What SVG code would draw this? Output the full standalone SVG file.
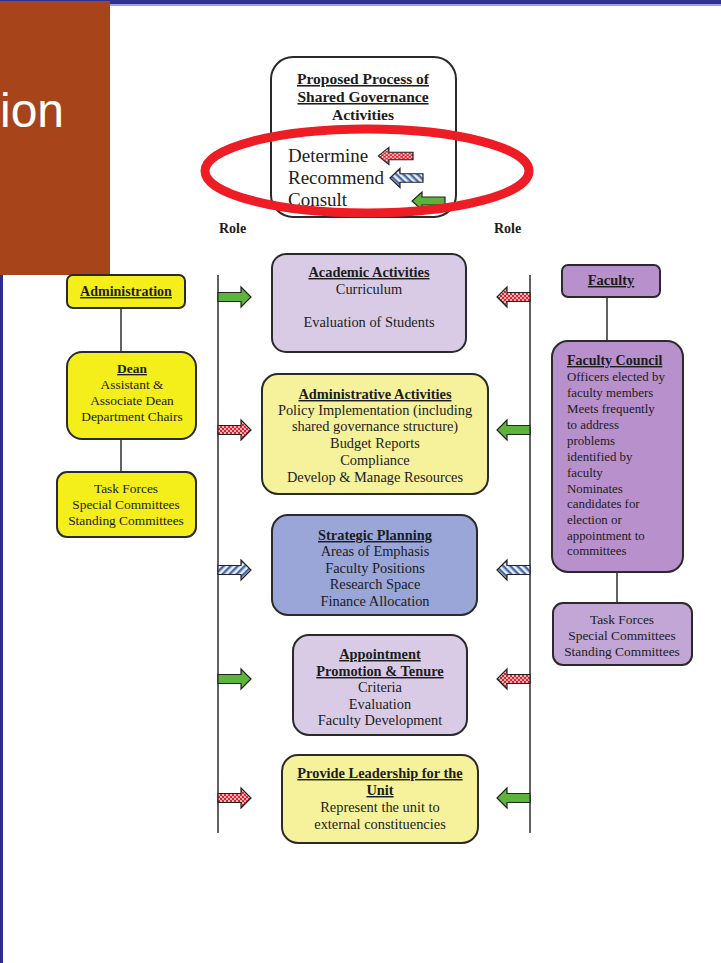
<svg xmlns="http://www.w3.org/2000/svg" xmlns:xlink="http://www.w3.org/1999/xlink" width="721" height="963" viewBox="0 0 721 963">
<style>
.t{font-family:"Liberation Serif","Times New Roman",serif;fill:#1c1c1c;font-size:13.4px;text-anchor:middle}
.b{font-weight:bold;text-decoration:underline}
.c{font-size:14.4px}
.l{text-anchor:start;font-size:12.9px}
.lg{text-anchor:start;font-size:19px;fill:#222}
.ti{font-size:15.5px;font-weight:bold}
.role{text-anchor:start;font-size:14px;font-weight:bold}
.box{stroke:#2a2a2a;stroke-width:2}
.conn{stroke:#3a3a3a;stroke-width:1.6;fill:none}
.arr{stroke:#222;stroke-width:1.2}
</style>
<defs>
<pattern id="check" patternUnits="userSpaceOnUse" width="4" height="4">
<rect width="4" height="4" fill="#e0202a"/>
<circle cx="1" cy="1" r="0.9" fill="#fff"/>
<circle cx="3" cy="3" r="0.9" fill="#fff"/>
</pattern>
<pattern id="hatch" patternUnits="userSpaceOnUse" width="5" height="5" patternTransform="rotate(45)">
<rect width="5" height="5" fill="#e8eef8"/>
<rect width="2.4" height="5" fill="#4a68a6"/>
</pattern>
<path id="arr" d="M0,-4.5 H23 V-10 L33,0 L23,10 V4.5 H0 Z"/>
</defs>

<!-- background / slide frame -->
<rect x="0" y="0" width="721" height="963" fill="#ffffff"/>
<rect x="0" y="0" width="721" height="4" fill="#2e3192"/>
<rect x="0" y="4" width="721" height="2" fill="#9ea2da"/>
<rect x="0" y="275" width="3" height="688" fill="#2b2f8a"/>
<g id="title-block">
<rect x="0" y="1" width="110" height="274" fill="#a8441a"/>
<text x="0" y="127" font-family="Liberation Sans, Arial, sans-serif" font-size="48" fill="#ffffff">ion</text>
</g>

<!-- legend -->
<g id="legend">
<rect class="box" x="271" y="57" width="185" height="160" rx="22" fill="#fff"/>
<text class="t b ti" x="363" y="84">Proposed Process of</text>
<text class="t b ti" x="363" y="102">Shared Governance</text>
<text class="t ti" x="363" y="120">Activities</text>
<text class="t lg" x="288" y="162">Determine</text>
<text class="t lg" x="288" y="184">Recommend</text>
<text class="t lg" x="288" y="206">Consult</text>
<use href="#arr" class="arr" fill="url(#check)" transform="translate(413,156) scale(-1.05,0.85)"/>
<use href="#arr" class="arr" fill="url(#hatch)" transform="translate(423,178) scale(-1,0.95)"/>
<use href="#arr" class="arr" fill="#5cb43a" transform="translate(445,201) scale(-1,0.9)"/>
</g>
<ellipse cx="367" cy="171" rx="162" ry="42" fill="none" stroke="#ee1c24" stroke-width="9"/>

<text class="t role" x="219" y="233">Role</text>
<text class="t role" x="494" y="233">Role</text>

<!-- connectors -->
<g id="connectors">
<line class="conn" x1="218" y1="275" x2="218" y2="833"/>
<line class="conn" x1="530" y1="275" x2="530" y2="833"/>
<line class="conn" x1="121" y1="308" x2="121" y2="352"/>
<line class="conn" x1="121" y1="439" x2="121" y2="472"/>
<line class="conn" x1="607" y1="297" x2="607" y2="341"/>
<line class="conn" x1="617" y1="572" x2="617" y2="603"/>
<use href="#arr" class="arr" fill="#5cb43a" transform="translate(218,297)"/>
<use href="#arr" class="arr" fill="url(#check)" transform="translate(218,430)"/>
<use href="#arr" class="arr" fill="url(#hatch)" transform="translate(218,570)"/>
<use href="#arr" class="arr" fill="#5cb43a" transform="translate(218,679)"/>
<use href="#arr" class="arr" fill="url(#check)" transform="translate(218,798)"/>
<use href="#arr" class="arr" fill="url(#check)" transform="translate(530,297) scale(-1,1)"/>
<use href="#arr" class="arr" fill="#5cb43a" transform="translate(530,430) scale(-1,1)"/>
<use href="#arr" class="arr" fill="url(#hatch)" transform="translate(530,570) scale(-1,1)"/>
<use href="#arr" class="arr" fill="url(#check)" transform="translate(530,679) scale(-1,1)"/>
<use href="#arr" class="arr" fill="#5cb43a" transform="translate(530,798) scale(-1,1)"/>
</g>

<!-- left column -->
<g id="administration">
<rect class="box" x="67" y="275" width="118" height="33" rx="6" fill="#f4ee1a"/>
<text class="t b" x="126" y="296" style="font-size:14px">Administration</text>
</g>
<g id="dean">
<rect class="box" x="67" y="352" width="129" height="87" rx="15" fill="#f4ee1a"/>
<text class="t b" x="132" y="373">Dean</text>
<text class="t" x="132" y="389">Assistant &amp;</text>
<text class="t" x="132" y="405">Associate Dean</text>
<text class="t" x="132" y="421">Department Chairs</text>
</g>
<g id="admin-committees">
<rect class="box" x="57" y="472" width="139" height="65" rx="10" fill="#f4ee1a"/>
<text class="t" x="126" y="493">Task Forces</text>
<text class="t" x="126" y="509">Special Committees</text>
<text class="t" x="126" y="525">Standing Committees</text>
</g>

<!-- center column -->
<g id="academic">
<rect class="box" x="272" y="254" width="194" height="98" rx="14" fill="#d9cbe5"/>
<text class="t c b" x="369" y="277">Academic Activities</text>
<text class="t c" x="369" y="294">Curriculum</text>
<text class="t c" x="369" y="327">Evaluation of Students</text>
</g>
<g id="administrative">
<rect class="box" x="262" y="374" width="226" height="120" rx="16" fill="#f6f29c"/>
<text class="t c b" x="375" y="399">Administrative Activities</text>
<text class="t c" x="375" y="415">Policy Implementation (including</text>
<text class="t c" x="375" y="431">shared governance structure)</text>
<text class="t c" x="375" y="448">Budget Reports</text>
<text class="t c" x="375" y="465">Compliance</text>
<text class="t c" x="375" y="482">Develop &amp; Manage Resources</text>
</g>
<g id="strategic">
<rect class="box" x="272" y="515" width="205" height="100" rx="16" fill="#9aa6d8"/>
<text class="t c b" x="375" y="540">Strategic Planning</text>
<text class="t c" x="375" y="556">Areas of Emphasis</text>
<text class="t c" x="375" y="573">Faculty Positions</text>
<text class="t c" x="375" y="589">Research Space</text>
<text class="t c" x="375" y="606">Finance Allocation</text>
</g>
<g id="appointment">
<rect class="box" x="293" y="635" width="174" height="100" rx="16" fill="#d9cbe5"/>
<text class="t c b" x="380" y="659">Appointment</text>
<text class="t c b" x="380" y="676">Promotion &amp; Tenure</text>
<text class="t c" x="380" y="692">Criteria</text>
<text class="t c" x="380" y="709">Evaluation</text>
<text class="t c" x="380" y="725">Faculty Development</text>
</g>
<g id="leadership">
<rect class="box" x="282" y="755" width="196" height="88" rx="16" fill="#f6f29c"/>
<text class="t c b" x="380" y="778">Provide Leadership for the</text>
<text class="t c b" x="380" y="795">Unit</text>
<text class="t c" x="380" y="812">Represent the unit to</text>
<text class="t c" x="380" y="829">external constituencies</text>
</g>

<!-- right column -->
<g id="faculty">
<rect class="box" x="562" y="265" width="98" height="32" rx="6" fill="#b890cc"/>
<text class="t b" x="611" y="285" style="font-size:14.4px">Faculty</text>
</g>
<g id="faculty-council">
<rect class="box" x="552" y="341" width="131" height="231" rx="16" fill="#b890cc"/>
<text class="t b l" x="567" y="365" style="font-size:14px">Faculty Council</text>
<text class="t l" x="567" y="381">Officers elected by</text>
<text class="t l" x="567" y="397">faculty members</text>
<text class="t l" x="567" y="413">Meets frequently</text>
<text class="t l" x="567" y="429">to address</text>
<text class="t l" x="567" y="445">problems</text>
<text class="t l" x="567" y="461">identified by</text>
<text class="t l" x="567" y="477">faculty</text>
<text class="t l" x="567" y="493">Nominates</text>
<text class="t l" x="567" y="508">candidates for</text>
<text class="t l" x="567" y="524">election or</text>
<text class="t l" x="567" y="540">appointment to</text>
<text class="t l" x="567" y="555">committees</text>
</g>
<g id="faculty-committees">
<rect class="box" x="553" y="603" width="139" height="62" rx="10" fill="#c2a6d5"/>
<text class="t" x="622" y="624">Task Forces</text>
<text class="t" x="622" y="640">Special Committees</text>
<text class="t" x="622" y="656">Standing Committees</text>
</g>
</svg>
